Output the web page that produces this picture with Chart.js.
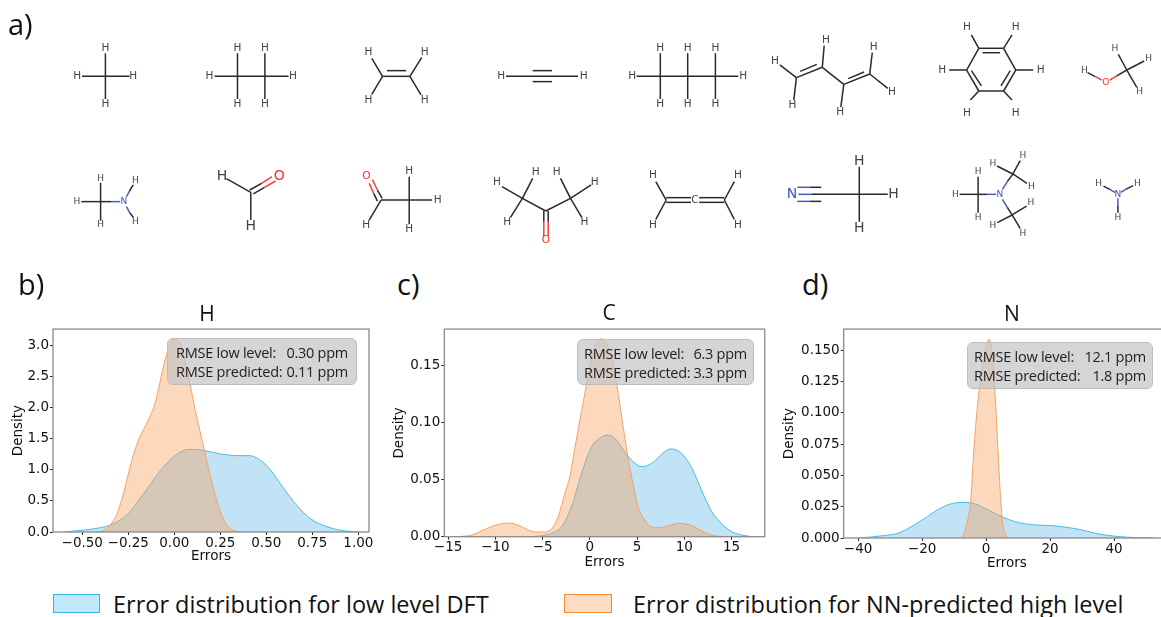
<!DOCTYPE html>
<html>
<head>
<meta charset="utf-8">
<script src="https://cdn.jsdelivr.net/npm/chart.js@4/dist/chart.umd.min.js"></script>
<style>
  html, body { margin: 0; padding: 0; background: #fff; width: 1161px; height: 617px; overflow: hidden; }
  canvas { position: absolute; }
  .txt { position: absolute; font-family: "Open Sans", sans-serif; color: #111; white-space: nowrap; }
  .tag { font-size: 29px; line-height: 32px; }
  .ttl { font-size: 21px; line-height: 24px; transform: translateX(-50%); }
  .rmse { position: absolute; box-sizing: border-box; background: rgba(197,197,199,.72); border: 1px solid #bdbdbd;
          border-radius: 6px; font-family: "Open Sans", sans-serif; font-size: 14.5px; letter-spacing: -.25px; color: #222; }
  .rmse div { display: flex; justify-content: space-between; line-height: 19px; white-space: pre; }
  .sw { position: absolute; box-sizing: border-box; top: 594px; height: 19px; border-width: 1.5px; border-style: solid; }
  .leg { font-size: 23.5px; line-height: 28px; top: 590px; }
</style>
</head>
<body>
<canvas id="molecules" width="1161" height="260" style="left:0;top:0"></canvas>
<canvas id="panelH" width="385" height="255" style="left:0;top:320px"></canvas>
<canvas id="panelC" width="395" height="255" style="left:385px;top:320px"></canvas>
<canvas id="panelN" width="409" height="255" style="left:771px;top:320px"></canvas>

<div class="txt tag" style="left:8px;top:8px">a)</div>
<div class="txt tag" style="left:18px;top:268px">b)</div>
<div class="txt tag" style="left:397px;top:268px">c)</div>
<div class="txt tag" style="left:802px;top:268px">d)</div>
<div class="txt ttl" style="left:207px;top:301px">H</div>
<div class="txt ttl" style="left:609px;top:300px">C</div>
<div class="txt ttl" style="left:1012px;top:301px">N</div>

<div class="rmse" style="left:167px;top:338px;width:190px;height:47px;padding:4px 8px 0 8px">
  <div><span>RMSE low level:</span><span>0.30 ppm</span></div>
  <div><span>RMSE predicted:</span><span>0.11 ppm</span></div>
</div>
<div class="rmse" style="left:577px;top:339px;width:177px;height:46px;padding:4px 6px 0 6px">
  <div><span>RMSE low level:</span><span>6.3 ppm</span></div>
  <div><span>RMSE predicted:</span><span>3.3 ppm</span></div>
</div>
<div class="rmse" style="left:967px;top:342px;width:186px;height:47px;padding:4px 6px 0 6px">
  <div><span>RMSE low level:</span><span>12.1 ppm</span></div>
  <div><span>RMSE predicted:</span><span>1.8 ppm</span></div>
</div>

<div class="sw" style="left:53px;width:47px;background:#c2e9fb;border-color:#2eb5ea"></div>
<div class="txt leg" style="left:113px">Error distribution for low level DFT</div>
<div class="sw" style="left:564px;width:48px;background:#fcddc6;border-color:#f58a33"></div>
<div class="txt leg" style="left:633px">Error distribution for NN-predicted high level</div>

<script>
// H panel
const lowXH = [-0.6, -0.495, -0.40, -0.349, -0.259, -0.168, -0.078, 0.013, 0.076, 0.112, 0.167, 0.248, 0.348, 0.41, 0.465, 0.52, 0.59, 0.665, 0.737, 0.83, 0.90, 0.973, 1.0];
const lowYH = [0, 0.03, 0.07, 0.11, 0.27, 0.61, 0.98, 1.25, 1.33, 1.33, 1.31, 1.26, 1.23, 1.23, 1.16, 1.01, 0.72, 0.43, 0.22, 0.085, 0.03, 0.005, 0];
const predXH = [-0.43, -0.386, -0.349, -0.313, -0.277, -0.241, -0.204, -0.168, -0.132, -0.105, -0.078, -0.051, -0.023, 0.005, 0.035, 0.058, 0.085, 0.112, 0.14, 0.167, 0.194, 0.221, 0.248, 0.275, 0.303, 0.346, 0.375];
const predYH = [0, 0.02, 0.11, 0.28, 0.61, 1.04, 1.41, 1.65, 1.86, 2.07, 2.41, 2.76, 3.02, 3.11, 3.02, 2.76, 2.39, 1.99, 1.62, 1.27, 0.93, 0.61, 0.35, 0.16, 0.06, 0.005, 0];
const xTicksH = [-0.5, -0.25, 0, 0.25, 0.5, 0.75, 1];
const yTicksH = [0, 0.5, 1, 1.5, 2, 2.5, 3];

// C panel
const lowXC = [-6.2, -5, -4.05, -3.0, -1.94, -0.88, 0.18, 1.24, 1.94, 2.83, 3.7, 4.59, 5.47, 6.53, 7.76, 8.6, 9.7, 10.8, 11.8, 12.9, 13.9, 15.0, 16.1, 17.1];
const lowYC = [0, 0.001, 0.003, 0.0087, 0.0262, 0.0554, 0.0787, 0.0874, 0.0892, 0.0845, 0.0743, 0.0656, 0.0615, 0.0642, 0.0734, 0.077, 0.073, 0.06, 0.041, 0.022, 0.0117, 0.0044, 0.0015, 0];
const predXC = [-13.9, -12.5, -11.1, -9.7, -8.6, -7.6, -6.5, -5.82, -4.76, -4.05, -3.35, -2.65, -2.12, -1.59, -1.06, -0.28, 0.0, 0.53, 1.24, 1.94, 2.47, 3.0, 3.53, 4.05, 4.59, 5.11, 5.82, 6.53, 7.2, 7.94, 9.4, 10.8, 11.8, 12.9, 13.9];
const predYC = [0, 0.0015, 0.0064, 0.0108, 0.012, 0.0102, 0.0058, 0.0041, 0.0041, 0.0067, 0.0175, 0.0379, 0.0525, 0.0775, 0.102, 0.137, 0.15, 0.1676, 0.1734, 0.1661, 0.1501, 0.1253, 0.0962, 0.0685, 0.0452, 0.0262, 0.0146, 0.0087, 0.0079, 0.0087, 0.0117, 0.0096, 0.0052, 0.0015, 0];
const xTicksC = [-15, -10, -5, 0, 5, 10, 15];
const yTicksC = [0, 0.05, 0.10, 0.15];

// N panel
const lowXN = [-40, -36, -31.8, -27.6, -23.4, -19.3, -15.1, -10.9, -6.8, -3.6, 0.5, 4.7, 8.9, 13, 17.2, 21.4, 25.5, 29.7, 33.9, 38, 42.2, 47.4, 52.6];
const lowYN = [0, 0.0008, 0.002, 0.0037, 0.009, 0.0155, 0.0226, 0.0273, 0.0284, 0.0273, 0.0226, 0.0173, 0.0131, 0.011, 0.0102, 0.0097, 0.0084, 0.0066, 0.0039, 0.0021, 0.001, 0.0003, 0];
const predXN = [-7.5, -6.56, -5.53, -4.78, -3.97, -3.12, -2.09, -1.03, -0.09, 0.94, 1.78, 2.5, 3.12, 3.85, 4.59, 5.22, 5.94, 6.66];
const predYN = [0, 0.0063, 0.0168, 0.03, 0.0641, 0.0931, 0.1193, 0.1378, 0.1509, 0.1588, 0.1509, 0.1299, 0.1009, 0.0641, 0.03, 0.0116, 0.0037, 0];
const xTicksN = [-40, -20, 0, 20, 40];
const yTicksN = [0, 0.025, 0.05, 0.075, 0.1, 0.125, 0.15];

// molecule sketches as [x1, y1, x2, y2]
const blackBonds = [
  // methane
  [105.4,59,105.4,110],[82,84.7,129.5,84.7],
  // ethane
  [214.6,84.7,288.6,84.7],[237.5,59,237.5,110],[264.9,59,264.9,110],
  // ethylene
  [382.5,84.7,409.9,84.7],[387,78.4,406.2,78.4],[382.5,84.7,371.8,64.7],[409.9,84.7,421.8,63.6],[382.5,84.7,371.8,104.7],[409.9,84.7,421,105.4],
  // acetylene
  [506,84.7,578,84.7],[532.7,78.4,552,78.4],[532.7,90.6,552,90.6],
  // butane
  [636.6,84.7,738.3,84.7],[660.3,59,660.3,110],[687.7,59,687.7,110],[715.4,59,715.4,110],
  // butadiene
  [796.4,86.2,822.3,74.7],[800.1,79.2,816.8,71.4],[822.3,74.7,843.8,93.6],[843.8,93.6,869.7,82.1],[848.2,87.3,864.1,79.9],
  [796.4,86.2,779.8,72.1],[796.4,86.2,793.8,111],[822.3,74.7,824.2,50.7],[869.7,82.1,872.3,58.5],[869.7,82.1,887.8,98],[843.8,93.6,840.8,119],
  // benzene
  [978.8,53.6,1003.6,53.6],[1003.6,53.6,1015.8,77.7],[1015.8,77.7,1003.6,101],[1003.6,101,978.8,101],[978.8,101,966.6,77.7],[966.6,77.7,978.8,53.6],
  [982.5,58.5,999.9,58.5],[1010.3,78.4,1001,95.4],[971.4,78.4,981.4,95.4],
  [978.8,53.6,971.4,38.8],[1003.6,53.6,1012,38.8],[966.6,77.7,949.2,77.7],[1015.8,77.7,1033.2,77.7],[978.8,101,970.3,111],[1003.6,101,1012,111],
  // methanol
  [1087.6,80.6,1095.3,85.1],[1116.4,84.4,1126.8,77.7],[1126.8,77.7,1118.3,60.3],[1126.8,77.7,1144.2,67.7],[1126.8,77.7,1136.8,96.9],
  // methylamine
  [81.4,209.5,111,209.5],[100.6,188.5,100.6,230.6],[129.5,197.7,133.2,191],[129.5,221.4,133.2,226.9],
  // formaldehyde
  [249.7,196.6,261.6,189.2],[253.4,201,264.5,193.6],[250.8,199.2,226.4,184],[250.8,199.2,250.8,229.9],
  // acetaldehyde
  [377.4,209,373.7,200.3],[382.2,205.8,377.4,196.6],[381,207.7,369.2,229.9],[381,207.7,432.1,207.7],[409.2,181.8,409.2,234.7],
  // acetone
  [522.4,205.8,545.7,219.9],[545.7,219.9,570.5,205.8],[522.4,205.8,502,192.9],[522.4,205.8,532.7,183.6],[522.4,205.8,510.5,226.9],
  [570.5,205.8,560.5,183.6],[570.5,205.8,591.1,191],[570.5,205.8,581.8,226.9],[543.8,219.9,543.8,231.7],[548.2,219.9,548.2,231.7],
  // allene
  [666.2,205.1,691,205.1],[666.2,210.3,691,210.3],[699.1,205.1,724.3,205.1],[699.1,210.3,724.3,210.3],
  [666.2,207.7,655.8,187.3],[666.2,207.7,655.8,229.1],[724.3,207.7,734.3,187.3],[724.3,207.7,734.3,229.1],
  // acetonitrile
  [811.2,201.4,887.8,201.4],[810.1,193.6,821.2,193.6],[810.1,209.2,821.2,209.2],[859.3,170.7,859.3,231.7],
  // trimethylamine
  [959.6,201.4,987,201.4],[978.1,181.8,978.1,221.8],[1007.3,187.3,1012.9,178.8],[1012.9,178.8,997,170],[1012.9,178.8,1020.2,164],[1012.9,178.8,1026.9,189.2],
  [1007.3,215.8,1012.1,224.3],[1012.1,224.3,1026.5,214.4],[1012.1,224.3,997.3,232.8],[1012.1,224.3,1020.2,239.1],
  // ammonia
  [1103.5,192.2,1109.8,195.9],[1125.7,195.9,1133.1,191.8],[1117.9,214.4,1117.9,221.8]
];
const redBonds = [
  [1095.3,85.1,1101.6,88.8],[1109.8,88.8,1116.4,84.4],
  [261.6,189.2,272,181.8],[264.5,193.6,275.6,186.6],
  [373.7,200.3,369.2,189.2],[377.4,196.6,372.4,185],
  [543.8,231.7,543.8,247.6],[548.2,231.7,548.2,247.6]
];
const blueBonds = [
  [111,209.5,120.2,209.5],[126.5,204,129.5,197.7],[126.5,215,129.5,221.4],
  [798.3,201.4,811.2,201.4],[797.2,193.6,810.1,193.6],[797.2,209.2,810.1,209.2],
  [987,201.4,996.2,201.4],[1002.5,195.9,1007.3,187.3],[1002.5,207,1007.3,215.8],
  [1109.8,195.9,1115,199.2],[1120.9,199.2,1125.7,195.9],[1117.9,205.8,1117.9,214.4]
];

// atom labels as [text, x, y], grouped by how big they print
const atomsSmall = [
  ['H',1084.3,78],['H',1115,54.4],['H',1148.6,64.7],['H',1139.7,101.7],['O',1105.7,92.1],
  ['H',77,209.5],['H',100.6,183.6],['H',100.6,235.4],['H',135.4,186.6],['H',135.4,231.7],['N',123.9,209.5],
  ['H',955.5,201.4],['H',978.1,176.6],['H',978.1,226.9],['H',992.9,167.4],['H',1022.9,158.1],['H',1031.3,192.9],
  ['H',1031,210.6],['H',992.9,235.8],['H',1022.9,244.7],['N',999.9,201.4],
  ['H',1098.7,189.2],['H',1137.5,189.2],['H',1117.9,226.9],['N',1117.9,201.4]
];
const atomsMedium = [
  ['H',105.4,54],['H',105.4,115.8],['H',77.3,84.7],['H',133.2,84.7],
  ['H',237.5,54],['H',264.9,54],['H',237.5,115.8],['H',264.9,115.8],['H',209.4,84.7],['H',293,84.7],
  ['H',368.5,58],['H',424.7,58],['H',368.5,111.7],['H',424.7,111.7],
  ['H',501.3,84.7],['H',583.7,84.7],
  ['H',632.2,84.7],['H',743.2,84.7],['H',660.3,54],['H',687.7,54],['H',715.4,54],['H',660.3,115.8],['H',687.7,115.8],['H',715.4,115.8],
  ['H',775,67.7],['H',792.4,117.3],['H',826,44.4],['H',873.8,52.9],['H',891.9,102.5],['H',840.1,125],
  ['H',967,30.7],['H',1015.8,30.7],['H',942.2,77.7],['H',1040.6,77.7],['H',967,125.8],['H',1015.8,125.8],
  ['O',366.3,181],['H',366.3,235.8],['H',409.2,176.2],['H',437.7,207.7],['H',409.2,239.9],
  ['H',496.9,188.5],['H',535.7,177],['H',507.2,232.8],['H',556.8,177],['H',594.8,188.5],['H',584.4,232.5],['O',546,252.8],
  ['H',652.9,180.7],['H',738,180.7],['H',652.9,235.8],['H',738,235.8],['C',695,208.4]
];
const atomsLarge = [
  ['H',222,181],['H',250.8,236.5],['O',279.3,181],
  ['N',792,201.8],['H',859.3,164.4],['H',859.3,239.1],['H',893.4,201.4]
];

const LOW_LINE = '#45bde9';
const LOW_FILL = 'rgba(102,182,232,.4)';
const PRED_LINE = '#f3a265';
const PRED_FILL = 'rgba(248,160,90,.4)';
const atomColors = { H: '#444', C: '#444', O: '#ff2a2a', N: '#4353b3' };

Chart.defaults.animation = false;
Chart.defaults.font.family = '"DejaVu Sans"';

function zipPoints(xs, ys) {
  return xs.map((x, i) => ({ x: x, y: ys[i] }));
}

function fmt(v, digits) {
  return v.toFixed(digits).replace('-', '\u2212');
}

// the spines are grey on all four sides
const framePlugin = {
  id: 'frame',
  afterDraw(chart) {
    const a = chart.chartArea;
    const ctx = chart.ctx;
    ctx.save();
    ctx.strokeStyle = '#8a8a8a';
    ctx.lineWidth = 1.3;
    ctx.strokeRect(a.left, a.top, a.right - a.left, a.bottom - a.top);
    ctx.restore();
  }
};

function makePanel(id, o) {
  const lineOpts = { fill: 'origin', borderWidth: 1, pointRadius: 0, cubicInterpolationMode: 'monotone' };
  return new Chart(document.getElementById(id), {
    type: 'line',
    data: {
      datasets: [
        Object.assign({ label: 'Error distribution for NN-predicted high level', data: zipPoints(o.predX, o.predY),
          borderColor: PRED_LINE, backgroundColor: PRED_FILL }, lineOpts),
        Object.assign({ label: 'Error distribution for low level DFT', data: zipPoints(o.lowX, o.lowY),
          borderColor: LOW_LINE, backgroundColor: LOW_FILL }, lineOpts)
      ]
    },
    options: {
      responsive: false,
      layout: { padding: { top: o.padTop, right: o.padRight, left: 0, bottom: 0 } },
      plugins: { legend: { display: false }, tooltip: { enabled: false } },
      scales: {
        x: {
          type: 'linear', min: o.xMin, max: o.xMax,
          afterBuildTicks: s => { s.ticks = o.xTicks.map(v => ({ value: v })); },
          afterFit: s => { s.height = o.xHeight; },
          grid: { drawOnChartArea: false, tickColor: '#222', tickLength: 3 },
          border: { display: false },
          ticks: { color: '#111', font: { size: 13.5 }, padding: 0, maxRotation: 0, autoSkip: false,
            callback: v => fmt(v, o.xDigits) },
          title: { display: true, text: 'Errors', color: '#111', font: { size: 13.5 }, padding: { top: 0, bottom: o.xTitlePad } }
        },
        y: {
          min: 0, max: o.yMax,
          afterBuildTicks: s => { s.ticks = o.yTicks.map(v => ({ value: v })); },
          afterFit: s => { s.width = o.yWidth; },
          grid: { drawOnChartArea: false, tickColor: '#222', tickLength: 3 },
          border: { display: false },
          ticks: { color: '#111', font: { size: 13.5 }, padding: 1, autoSkip: false,
            callback: v => fmt(v, o.yDigits) },
          title: { display: true, text: 'Density', color: '#111', font: { size: 13.5 }, padding: { top: o.yTitlePad, bottom: 0 } }
        }
      }
    },
    plugins: [framePlugin]
  });
}

makePanel('panelH', {
  lowX: lowXH, lowY: lowYH, predX: predXH, predY: predYH,
  xTicks: xTicksH, yTicks: yTicksH, xDigits: 2, yDigits: 1,
  xMin: -0.659, xMax: 1.058, yMax: 3.27,
  padTop: 6, padRight: 16, xHeight: 43, yWidth: 53, xTitlePad: 10, yTitlePad: 10
});
makePanel('panelC', {
  lowX: lowXC, lowY: lowYC, predX: predXC, predY: predYC,
  xTicks: xTicksC, yTicks: yTicksC, xDigits: 0, yDigits: 2,
  xMin: -15.4, xMax: 18.5, yMax: 0.182,
  padTop: 8.3, padRight: 15.3, xHeight: 38.3, yWidth: 59.3, xTitlePad: 4, yTitlePad: 6
});
makePanel('panelN', {
  lowX: lowXN, lowY: lowYN, predX: predXN, predY: predYN,
  xTicks: xTicksN, yTicks: yTicksN, xDigits: 0, yDigits: 3,
  xMin: -44.5, xMax: 57.5, yMax: 0.1668,
  padTop: 6.3, padRight: 10, xHeight: 37, yWidth: 72.7, xTitlePad: 3, yTitlePad: 10
});

// the y readings above came from crops stretched less in y than in x, squash each row back
function rowY(y) {
  return y < 130 ? y * 0.901 : 130 + (y - 130) * 0.901;
}

// molecule row: a line chart whose scales run in page pixels
const atomPlugin = {
  id: 'atoms',
  afterDatasetsDraw(chart) {
    const ctx = chart.ctx;
    const sx = chart.scales.x;
    const sy = chart.scales.y;
    const groups = [[atomsSmall, 9], [atomsMedium, 10.5], [atomsLarge, 14]];
    ctx.save();
    ctx.textAlign = 'center';
    ctx.textBaseline = 'middle';
    groups.forEach(([atoms, size]) => {
      ctx.font = size + 'px "DejaVu Sans"';
      atoms.forEach(([t, x, y]) => {
        ctx.fillStyle = atomColors[t];
        ctx.fillText(t, sx.getPixelForValue(x), sy.getPixelForValue(rowY(y)));
      });
    });
    ctx.restore();
  }
};

function bondSets(bonds, color) {
  return bonds.map(b => ({
    data: [{ x: b[0], y: rowY(b[1]) }, { x: b[2], y: rowY(b[3]) }],
    borderColor: color, borderWidth: 1.5, pointRadius: 0, tension: 0, fill: false
  }));
}

new Chart(document.getElementById('molecules'), {
  type: 'line',
  data: {
    datasets: [].concat(bondSets(blackBonds, '#2a2a2a'), bondSets(redBonds, '#ff3b3b'), bondSets(blueBonds, '#4a5cb8'))
  },
  options: {
    responsive: false,
    plugins: { legend: { display: false }, tooltip: { enabled: false } },
    scales: {
      x: { type: 'linear', display: false, min: 0, max: 1161 },
      y: { type: 'linear', display: false, min: 0, max: 260, reverse: true }
    }
  },
  plugins: [atomPlugin]
});
</script>
</body>
</html>
